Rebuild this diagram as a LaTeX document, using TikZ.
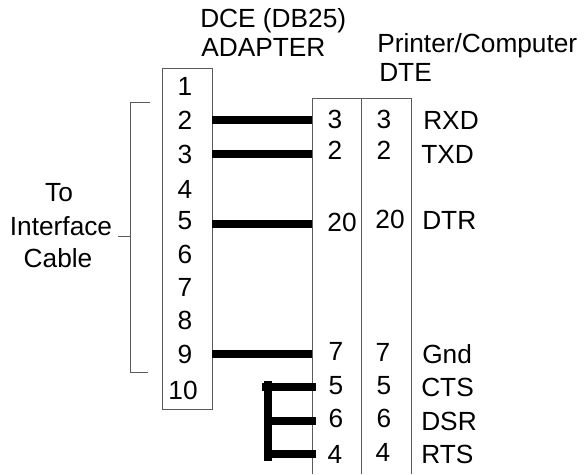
\documentclass[tikz,border=0pt]{standalone}
\usepackage{fontspec}
\setmainfont{Liberation Sans}
\tikzset{
  lbl/.style={inner sep=0.75pt,font=\fontsize{19.7}{23}\selectfont},
  leftlbl/.style={lbl,anchor=west},
  thinline/.style={draw={rgb, 255:red, 90; green, 90; blue, 90},line width=0.75pt},
  wire/.style={line width=6.5pt},
  loopwire/.style={line width=6pt},
}

\begin{document}
\begin{tikzpicture}[x=0.75pt,y=0.75pt,yscale=-1,xscale=1]
    \useasboundingbox (0,0) rectangle (584,474);

    %Shape: Rectangle, adapter
    \node (adapter) [thinline,minimum width=37.5pt,minimum height=255pt,inner sep=0pt] at (187,239) {};
    %Shape: open box, DTE side
    \coordinate (dteA) at (312,474);
    \coordinate (dteB) at (312,98.5);
    \coordinate (dteC) at (411.5,98.5);
    \coordinate (dteD) at (411.5,474);
    \coordinate (dteE) at (361.5,98.5);
    \coordinate (dteF) at (361.5,474);
    \draw [thinline] (dteA) -- (dteB) -- (dteC) -- (dteD);
    \draw [thinline] (dteE) -- (dteF);

    %Shape: bracket
    \coordinate (brA) at (150,102.5);
    \coordinate (brB) at (130,102.5);
    \coordinate (brC) at (130,372);
    \coordinate (brD) at (148,372);
    \coordinate (brE) at (130,236);
    \coordinate (brF) at (118,236);
    \draw [thinline] (brA) -- (brB) -- (brC) -- (brD);
    \draw [thinline] (brE) -- (brF);

    % Text Node
    \node (title) [leftlbl] at (199,21) {DCE (DB25)};
    \node (adapterlbl) [leftlbl] at (200,47) {ADAPTER};
    \node (printer) [leftlbl] at (376,46) {Printer/Computer};
    \node (dte) [leftlbl] at (378,72) {DTE};
    \node (to) [lbl] at (59,193) {To};
    \node (interface) [lbl] at (61,226) {Interface};
    \node (cable) [lbl] at (58,258) {Cable};

    % Text Node, adapter pins
    \node (a1) [lbl] at (185,86) {1};
    \node (a2) [lbl] at (185,120) {2};
    \node (a3) [lbl] at (185,154) {3};
    \node (a4) [lbl] at (185,189) {4};
    \node (a5) [lbl] at (185,221) {5};
    \node (a6) [lbl] at (185,254) {6};
    \node (a7) [lbl] at (185,287) {7};
    \node (a8) [lbl] at (185,320) {8};
    \node (a9) [lbl] at (185,354) {9};
    \node (a10) [lbl] at (183,390) {10};

    % Text Node, DCE column
    \node (b3) [lbl] at (335,119) {3};
    \node (b2) [lbl] at (335,150) {2};
    \node (b20) [lbl] at (342,222) {20};
    \node (b7) [lbl] at (336,351) {7};
    \node (b5) [lbl] at (336,386) {5};
    \node (b6) [lbl] at (336,418) {6};
    \node (b4) [lbl] at (335,454) {4};

    % Text Node, DTE column
    \node (c3) [lbl] at (384,119) {3};
    \node (c2) [lbl] at (384,150) {2};
    \node (c20) [lbl] at (390,219) {20};
    \node (c7) [lbl] at (383,352) {7};
    \node (c5) [lbl] at (384,386) {5};
    \node (c6) [lbl] at (384,418) {6};
    \node (c4) [lbl] at (383,452) {4};

    % Text Node, signals
    \node (rxd) [leftlbl] at (422,120) {RXD};
    \node (txd) [leftlbl] at (420,154) {TXD};
    \node (dtr) [leftlbl] at (421,220) {DTR};
    \node (gnd) [leftlbl] at (421,354) {Gnd};
    \node (cts) [leftlbl] at (420,387) {CTS};
    \node (dsr) [leftlbl] at (420,421) {DSR};
    \node (rts) [leftlbl] at (420,454) {RTS};

    %Shape: wires
    \coordinate (w2) at (212,120);
    \coordinate (w3) at (212,154);
    \coordinate (w5) at (212,224);
    \coordinate (w9) at (212,354);
    \draw [wire] (w2) -- (w2 -| dteB);
    \draw [wire] (w3) -- (w3 -| dteB);
    \draw [wire] (w5) -- (w5 -| dteB);
    \draw [wire] (w9) -- (w9 -| dteB);

    %Shape: loop back
    \coordinate (k5) at (262,387);
    \coordinate (k6) at (268,421);
    \coordinate (k4) at (264,454);
    \coordinate (e5) at (316,387);
    \coordinate (e6) at (316,421);
    \coordinate (e4) at (316,454);
    \coordinate (barA) at (268,381);
    \coordinate (barB) at (268,461);
    \draw [loopwire] (k5) -- (e5);
    \draw [loopwire] (k6) -- (e6);
    \draw [loopwire] (k4) -- (e4);
    \draw [loopwire] (barA) -- (barB);
\end{tikzpicture}
\end{document}
